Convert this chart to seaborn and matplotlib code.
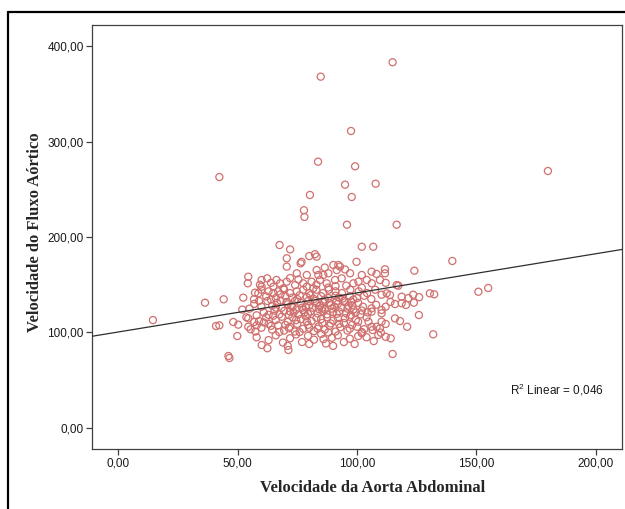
import matplotlib
matplotlib.use("Agg")
import matplotlib.pyplot as plt
from matplotlib.lines import Line2D
from matplotlib.ticker import FuncFormatter
import seaborn as sns
import pandas as pd

# ---------------- data ----------------
# Velocidade da Aorta Abdominal (x) and Velocidade do Fluxo Aórtico (y)
outliers_x = [84.8, 114.9, 97.5, 83.7, 99.2, 42.4, 95.0, 107.8, 80.3, 97.8, 77.8, 78.0, 95.8, 116.6, 179.9]
outliers_y = [367.9, 383.0, 311.0, 278.9, 274.0, 262.8, 254.8, 255.8, 244.0, 241.9, 228.0, 221.0, 212.9, 212.9, 269.1]

far_x = [14.6, 139.9, 150.8, 154.9, 132.3, 130.5, 131.9, 36.4, 44.2, 41.0, 42.4, 46.2, 46.6, 48.2, 49.9]
far_y = [113.0, 174.9, 142.7, 146.6, 140.0, 141.0, 98.1, 131.2, 134.8, 106.8, 107.5, 75.4, 73.3, 111.0, 96.3]

band_c_x = [67.6, 72.0, 102.0, 106.8, 70.6, 76.8, 76.4, 80.0, 82.4, 83.1, 99.8]
band_c_y = [191.6, 187.0, 189.8, 189.8, 177.7, 174.0, 172.4, 180.0, 182.0, 179.4, 174.0]

band_d_x = [90.1, 92.2, 92.9, 91.5, 83.1, 83.8, 111.7, 111.7, 108.2, 124.0, 102.0,
            70.6, 74.8, 79.0, 85.9, 88.0, 97.1, 106.1, 54.5, 95.0, 86.5]
band_d_y = [170.7, 170.7, 169.0, 165.4, 165.4, 160.2, 166.2, 162.0, 161.3, 164.7, 160.2,
            169.0, 162.0, 160.2, 160.2, 162.0, 162.0, 163.7, 158.4, 166.0, 168.0]

band_e_x = [54.3, 60.1, 62.4, 66.3, 67.8, 70.6, 74.1, 77.5, 81.0, 84.5, 87.3, 90.8,
            93.6, 98.5, 100.6, 104.1, 106.2, 109.6, 116.6, 60.1, 65.0, 69.2, 81.7, 72.0,
            79.0, 88.0, 95.5, 102.0, 112.0, 117.3, 64.0, 75.5, 83.0, 91.0, 59.4]
band_e_y = [151.5, 155.0, 156.7, 155.0, 151.5, 153.2, 149.7, 151.5, 153.2, 155.0, 151.5, 155.0,
            156.7, 151.5, 153.2, 155.0, 151.5, 155.0, 149.7, 148.0, 148.0, 146.2, 146.2, 157.0,
            148.0, 147.0, 149.0, 147.0, 152.0, 149.0, 152.0, 155.5, 150.0, 148.5, 150.0]

band_f_x = [57.3, 58.7, 56.9, 52.4, 60.0, 63.0, 65.0, 67.0, 69.5, 72.0, 74.8, 77.5,
            80.0, 83.0, 85.8, 88.2, 91.0, 93.7, 97.2, 100.7, 104.2, 107.6, 110.3, 113.8,
            112.4, 118.7, 121.5, 123.5, 126.0, 66.0, 70.0, 73.0, 76.0, 79.0, 82.0, 85.0,
            88.0, 91.0, 94.0, 97.0, 100.0, 103.0, 106.0, 62.0, 64.0, 68.0, 75.0, 80.5,
            86.5, 92.5, 98.5]
band_f_y = [141.7, 141.0, 134.8, 136.5, 144.8, 143.1, 141.3, 143.1, 144.8, 141.3, 143.1, 144.8,
            141.3, 144.8, 141.3, 144.8, 143.1, 141.3, 144.8, 143.1, 141.3, 144.8, 139.6, 139.3,
            141.0, 137.5, 136.0, 139.6, 137.0, 136.0, 138.0, 136.5, 139.0, 137.0, 135.0, 138.0,
            136.0, 138.5, 135.5, 138.0, 136.0, 138.5, 135.0, 137.8, 134.5, 140.0, 135.0, 139.0,
            134.5, 136.5, 134.5]

band_g_x = [57.0, 60.0, 62.5, 64.5, 66.5, 68.5, 70.5, 72.5, 74.5, 76.5, 78.5, 80.5,
            82.5, 84.5, 86.5, 88.5, 90.5, 92.5, 94.5, 96.5, 98.5, 100.5, 102.5, 104.5,
            106.1, 106.1, 110.3, 110.3, 115.9, 118.7, 120.5, 123.8, 125.9, 61.0, 63.0, 65.5,
            67.5, 69.5, 71.5, 73.5, 75.5, 77.5, 79.5, 81.5, 83.5, 85.5, 87.5, 89.5,
            91.5, 93.5, 95.5, 97.5, 99.5, 101.5, 55.0, 58.0, 52.0, 59.0, 71.0, 77.0,
            83.0, 89.0, 95.0, 68.0, 74.0, 80.0, 86.0, 92.0, 98.0, 73.0, 79.5, 85.5,
            91.5, 97.5, 66.0, 72.0, 78.0, 84.0, 90.0, 96.0, 102.0, 108.0, 112.0, 114.0]
band_g_y = [130.0, 127.0, 133.0, 128.0, 131.0, 126.0, 132.0, 128.0, 124.0, 131.0, 127.0, 122.0,
            133.0, 128.0, 124.0, 131.0, 127.0, 122.0, 133.0, 128.0, 124.0, 131.0, 127.0, 121.0,
            125.3, 121.8, 123.6, 120.1, 129.8, 130.6, 128.8, 131.2, 118.3, 121.0, 118.5, 123.0,
            119.0, 122.5, 118.5, 121.0, 119.0, 123.5, 119.5, 126.0, 120.0, 122.5, 119.0, 125.0,
            119.5, 126.5, 120.0, 118.5, 121.0, 119.0, 125.0, 118.0, 124.0, 133.0, 129.5, 126.0,
            130.5, 128.5, 131.5, 133.5, 133.0, 128.0, 132.0, 130.0, 128.5, 126.5, 133.0, 126.0,
            133.0, 132.5, 126.0, 122.0, 121.0, 124.5, 121.5, 125.0, 123.0, 129.0, 127.0, 132.0]

band_h_x = [50.3, 53.7, 54.5, 55.5, 54.5, 57.0, 59.0, 60.0, 62.0, 63.0, 64.5, 66.0,
            67.0, 68.5, 69.5, 71.0, 72.0, 73.0, 74.0, 75.0, 76.5, 77.5, 78.5, 79.5,
            81.0, 82.0, 83.0, 84.0, 85.5, 86.5, 87.5, 88.5, 90.0, 91.0, 92.0, 93.0,
            94.5, 96.0, 97.0, 98.0, 99.5, 100.5, 104.0, 104.8, 110.3, 108.2, 109.6, 106.1,
            106.5, 115.9, 102.0, 112.0, 118.0, 121.0, 61.0, 65.0, 70.0, 74.5, 80.0, 85.0,
            89.0, 95.0, 100.0, 103.0, 57.5, 67.5, 76.0, 83.5, 88.0, 92.5, 97.0, 79.0,
            71.5, 64.0, 58.0]
band_h_y = [108.2, 115.9, 106.0, 103.3, 114.8, 111.0, 112.0, 105.0, 116.0, 109.0, 103.0, 113.0,
            107.5, 116.5, 102.0, 111.0, 106.0, 116.0, 101.0, 109.0, 114.0, 104.0, 117.0, 108.0,
            112.0, 101.5, 115.5, 106.5, 110.0, 103.0, 116.0, 107.0, 112.5, 101.0, 115.0, 105.5,
            110.0, 102.0, 116.5, 108.0, 113.0, 111.3, 115.9, 111.3, 111.3, 106.0, 104.4, 106.0,
            102.6, 114.8, 100.5, 109.0, 112.0, 106.0, 110.5, 117.5, 108.0, 113.0, 105.0, 114.0,
            109.5, 115.0, 106.0, 103.5, 101.0, 100.5, 100.5, 104.0, 100.0, 109.0, 104.0, 111.5,
            104.5, 107.0, 107.5]

band_i_x = [60.1, 62.5, 110.0, 108.9, 100.5, 102.0, 114.1, 58.0, 63.0, 66.0, 69.0, 72.0,
            74.5, 77.0, 79.5, 82.0, 85.0, 87.0, 89.5, 92.0, 94.5, 97.0, 99.0, 104.0,
            107.0, 112.0, 71.0, 80.0, 90.0, 86.0, 71.3, 114.9]
band_i_y = [86.9, 83.5, 99.8, 97.4, 96.3, 99.2, 93.9, 95.0, 92.0, 97.0, 89.5, 94.0,
            98.0, 90.0, 96.5, 92.5, 98.5, 88.5, 94.5, 97.0, 90.0, 93.5, 88.0, 95.0,
            91.0, 95.5, 86.0, 88.0, 86.0, 93.0, 81.7, 77.5]

# linear fit line as drawn in the reference (intercept, slope)
fit_intercept = 100.5
fit_slope = 0.41

x_ticks = [0, 50, 100, 150, 200]
y_ticks = [0, 100, 200, 300, 400]
x_label = "Velocidade da Aorta Abdominal"
y_label = "Velocidade do Fluxo Aórtico"
fit_text = r"R$^{\mathrm{2}}$ Linear = 0,046"

groups_x = [outliers_x, far_x, band_c_x, band_d_x, band_e_x, band_f_x, band_g_x, band_h_x, band_i_x]
groups_y = [outliers_y, far_y, band_c_y, band_d_y, band_e_y, band_f_y, band_g_y, band_h_y, band_i_y]
df = pd.DataFrame({
    "x": [v for g in groups_x for v in g],
    "y": [v for g in groups_y for v in g],
})

# ---------------- style ----------------
sns.set_style("white")
plt.rcParams["font.family"] = ["Liberation Sans", "DejaVu Sans"]
plt.rcParams["mathtext.fontset"] = "custom"
plt.rcParams["mathtext.rm"] = "Liberation Sans"
plt.rcParams["mathtext.it"] = "Liberation Sans:italic"

marker_col = "#d0706e"
spine_col = "#404040"

fig = plt.figure(figsize=(6.25, 5.09), dpi=100)
ax = fig.add_axes([92 / 625, 1 - 449 / 509, 530 / 625, 424 / 509])

sns.scatterplot(data=df, x="x", y="y", ax=ax, marker="o", s=26,
                facecolors="none", edgecolors=marker_col, linewidth=0.9,
                zorder=3)
ax.axline((0, fit_intercept), slope=fit_slope, color="#2e2e2e", lw=0.9, zorder=4)

ax.set_xlim(-10.9, 210.9)
ax.set_ylim(-22.0, 422.0)
ax.set_xticks(x_ticks)
ax.set_yticks(y_ticks)
fmt = FuncFormatter(lambda v, p: f"{v:.2f}".replace(".", ","))
ax.xaxis.set_major_formatter(fmt)
ax.yaxis.set_major_formatter(fmt)
ax.tick_params(axis="both", which="major", direction="out", length=4, width=0.9,
               color=spine_col, labelsize=8.5, labelcolor="#1a1a1a", pad=2,
               bottom=True, left=True)
for sp in ax.spines.values():
    sp.set_color(spine_col)
    sp.set_linewidth(0.9)

ax.set_xlabel("")
ax.set_ylabel("")
fig.text(373 / 625, 1 - 488 / 509, x_label, ha="center", va="center",
         family="Liberation Serif", fontweight="bold", fontsize=12)
fig.text(35 / 625, 1 - 232 / 509, y_label, ha="center", va="center", rotation=90,
         family="Liberation Serif", fontweight="bold", fontsize=12)

ax.text(0.788, 0.139, fit_text, transform=ax.transAxes, ha="left", va="center",
        fontsize=8.5, color="#1a1a1a")

# outer frame (cut off at right and bottom)
fig.add_artist(Line2D([7.5 / 625, 7.5 / 625], [0, 1 - 12 / 509], color="black", lw=1.6))
fig.add_artist(Line2D([7.5 / 625, 1], [1 - 12 / 509, 1 - 12 / 509], color="black", lw=1.6))

fig.savefig("out.png", dpi=100)
